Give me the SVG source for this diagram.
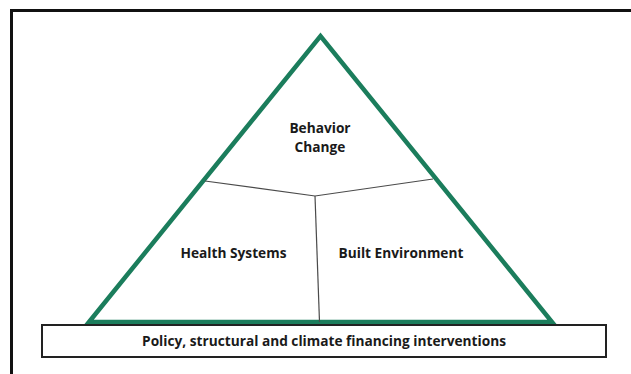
<svg xmlns="http://www.w3.org/2000/svg" width="631" height="374" viewBox="0 0 631 374">
  <style>
    .lbl { font-family: "Open Sans", "Liberation Sans", sans-serif; font-weight: 700; font-size: 13.7px; fill: #1a1a1a; text-anchor: middle; }
    .divider { stroke: #4a4a4a; stroke-width: 1.2; fill: none; }
  </style>
  <rect width="631" height="374" fill="#ffffff"/>
  <!-- outer frame -->
  <rect x="11.5" y="10.5" width="640" height="400" fill="none" stroke="#111111" stroke-width="3"/>

  <g id="pyramid">
    <polygon points="89,322 320.5,36 552,322" fill="#ffffff" stroke="#1b7d5c" stroke-width="4.5" stroke-linejoin="miter"/>
  </g>

  <g id="connectors">
    <polyline class="divider" points="205,181 315,196 433,179"/>
    <line class="divider" x1="315" y1="196" x2="319.5" y2="322"/>
  </g>

  <g id="behavior-change">
    <text class="lbl" x="320" y="133">Behavior</text>
    <text class="lbl" x="320" y="152">Change</text>
  </g>

  <g id="health-systems">
    <text class="lbl" x="233.5" y="258">Health Systems</text>
  </g>

  <g id="built-environment">
    <text class="lbl" x="401" y="258">Built Environment</text>
  </g>

  <g id="foundation">
    <rect x="42" y="325" width="564" height="32" fill="#ffffff" stroke="#222222" stroke-width="2"/>
    <text class="lbl" x="324" y="346">Policy, structural and climate financing interventions</text>
  </g>
</svg>
